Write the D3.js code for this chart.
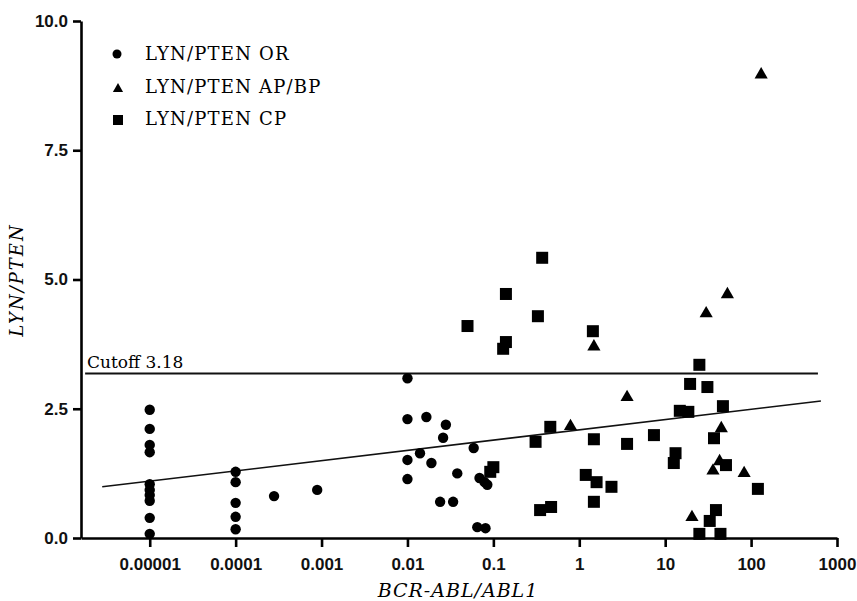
<!DOCTYPE html>
<html>
<head>
<meta charset="utf-8">
<script src="https://cdn.jsdelivr.net/npm/d3@7"></script>
<style>
  body { margin: 0; background: #fff; }
  svg { display: block; }
</style>
</head>
<body>
<div id="chart"></div>
<script>
// valeurs
const orX = [1e-5, 1e-5, 1e-5, 1e-5, 1e-5, 1e-5, 1e-5, 1e-5, 1e-5, 1e-5,
  1e-4, 1e-4, 1e-4, 1e-4, 1e-4, 0.00028, 0.00089,
  0.01, 0.01, 0.01, 0.01, 0.0166, 0.028, 0.026, 0.059, 0.014, 0.019, 0.038,
  0.069, 0.079, 0.085, 0.024, 0.034, 0.065, 0.081];
const orY = [2.48, 2.11, 1.80, 1.66, 1.04, 0.93, 0.83, 0.72, 0.39, 0.08,
  1.28, 1.08, 0.68, 0.41, 0.17, 0.81, 0.93,
  3.09, 2.30, 1.51, 1.14, 2.34, 2.19, 1.94, 1.74, 1.64, 1.45, 1.25,
  1.16, 1.08, 1.03, 0.70, 0.70, 0.21, 0.19];

const apX = [0.79, 1.48, 3.6, 45, 43, 36, 83, 20.5, 131, 53, 30];
const apY = [2.19, 3.73, 2.75, 2.15, 1.51, 1.33, 1.28, 0.43, 8.99, 4.74, 4.37];

const cpX = [0.05, 0.37, 0.14, 0.33, 0.14, 0.13, 1.44, 0.46, 0.31, 0.10, 0.092,
  0.35, 0.47, 25, 19.5, 31, 47, 14.8, 18.6, 1.48, 3.6, 7.4, 37, 13.2, 12.6,
  51, 1.19, 1.59, 2.37, 120, 1.48, 39, 33, 25, 44];
const cpY = [4.10, 5.42, 4.72, 4.29, 3.79, 3.66, 4.00, 2.15, 1.86, 1.37, 1.28,
  0.54, 0.60, 3.35, 2.98, 2.92, 2.55, 2.46, 2.44, 1.91, 1.82, 1.99, 1.93, 1.64, 1.45,
  1.41, 1.22, 1.08, 0.99, 0.95, 0.70, 0.54, 0.33, 0.08, 0.08];

const xTicks = [1e-5, 1e-4, 1e-3, 0.01, 0.1, 1, 10, 100, 1000];
const xTickLabels = ["0.00001", "0.0001", "0.001", "0.01", "0.1", "1", "10", "100", "1000"];
const yTicks = [0, 2.5, 5, 7.5, 10];

const cutoff = 3.18;
const cutoffX = [0.00000177, 600];
const fitX = [0.0000028, 650];
const fitY = [0.99, 2.65];

const legendLabels = ["LYN/PTEN OR", "LYN/PTEN AP/BP", "LYN/PTEN CP"];

const width = 857;
const height = 601;

const svg = d3.select("#chart").append("svg")
  .attr("width", width)
  .attr("height", height);

const x = d3.scaleLog().domain([Math.pow(10, -5.8), 1000]).range([81, 837]);
const y = d3.scaleLinear().domain([0, 10]).range([538, 21]);

const sans = "'Liberation Sans', Arial, sans-serif";
const serif = "'DejaVu Serif', serif";

// axe X
const gx = svg.append("g")
  .attr("transform", "translate(0,538)")
  .call(d3.axisBottom(x).tickValues(xTicks)
    .tickFormat((d, i) => xTickLabels[i]).tickSize(9).tickSizeOuter(0).tickPadding(11));
gx.select(".domain").attr("stroke-width", 2.6);
gx.selectAll(".tick line").attr("stroke-width", 2.6);
gx.selectAll("text").style("font", "bold 17px " + sans).attr("fill", "#111");

// axe Y
const gy = svg.append("g")
  .attr("transform", "translate(81,0)")
  .call(d3.axisLeft(y).tickValues(yTicks).tickFormat(d3.format(".1f"))
    .tickSize(8).tickSizeOuter(0).tickPadding(5));
gy.select(".domain").attr("stroke-width", 2.6);
gy.selectAll(".tick line").attr("stroke-width", 2.6);
gy.selectAll("text").style("font", "bold 17px " + sans).attr("fill", "#111");

// titres des axes
svg.append("text")
  .attr("x", 458).attr("y", 597)
  .attr("text-anchor", "middle")
  .style("font", "italic 19px " + serif)
  .style("letter-spacing", "1px")
  .text("BCR-ABL/ABL1");

svg.append("text")
  .attr("transform", "translate(23,280) rotate(-90)")
  .attr("text-anchor", "middle")
  .style("font", "italic 18px " + serif)
  .style("letter-spacing", "2px")
  .text("LYN/PTEN");

// ligne de seuil
svg.append("line")
  .attr("x1", x(cutoffX[0])).attr("x2", x(cutoffX[1]))
  .attr("y1", y(cutoff)).attr("y2", y(cutoff))
  .attr("stroke", "#111").attr("stroke-width", 2);
svg.append("text")
  .attr("x", 87).attr("y", y(cutoff) - 6)
  .style("font", "17px " + serif)
  .text("Cutoff " + cutoff);

// droite de régression
svg.append("line")
  .attr("x1", x(fitX[0])).attr("y1", y(fitY[0]))
  .attr("x2", x(fitX[1])).attr("y2", y(fitY[1]))
  .attr("stroke", "#111").attr("stroke-width", 1.6);

// points
const triangle = d3.symbol().type(d3.symbolTriangle).size(75);

svg.append("g").selectAll("circle")
  .data(d3.range(orX.length))
  .enter().append("circle")
  .attr("cx", (i) => x(orX[i]))
  .attr("cy", (i) => y(orY[i]))
  .attr("r", 5.2)
  .attr("fill", "#000");

svg.append("g").selectAll("rect")
  .data(d3.range(cpX.length))
  .enter().append("rect")
  .attr("x", (i) => x(cpX[i]) - 6)
  .attr("y", (i) => y(cpY[i]) - 6)
  .attr("width", 12)
  .attr("height", 12)
  .attr("fill", "#000");

svg.append("g").selectAll("path")
  .data(d3.range(apX.length))
  .enter().append("path")
  .attr("transform", (i) => "translate(" + x(apX[i]) + "," + (y(apY[i]) + 1.5) + ")")
  .attr("d", triangle)
  .attr("fill", "#000");

// légende
const legend = svg.append("g");
legend.append("circle").attr("cx", 117).attr("cy", 54).attr("r", 4.5).attr("fill", "#000");
legend.append("path").attr("transform", "translate(118,89)")
  .attr("d", d3.symbol().type(d3.symbolTriangle).size(45)).attr("fill", "#000");
legend.append("rect").attr("x", 113).attr("y", 115).attr("width", 10).attr("height", 10).attr("fill", "#000");

legend.selectAll("text")
  .data(legendLabels)
  .enter().append("text")
  .attr("x", 145)
  .attr("y", (d, i) => 60 + i * 32.5)
  .style("font", "18px " + serif)
  .style("letter-spacing", "1.2px")
  .text((d) => d);
</script>
</body>
</html>
